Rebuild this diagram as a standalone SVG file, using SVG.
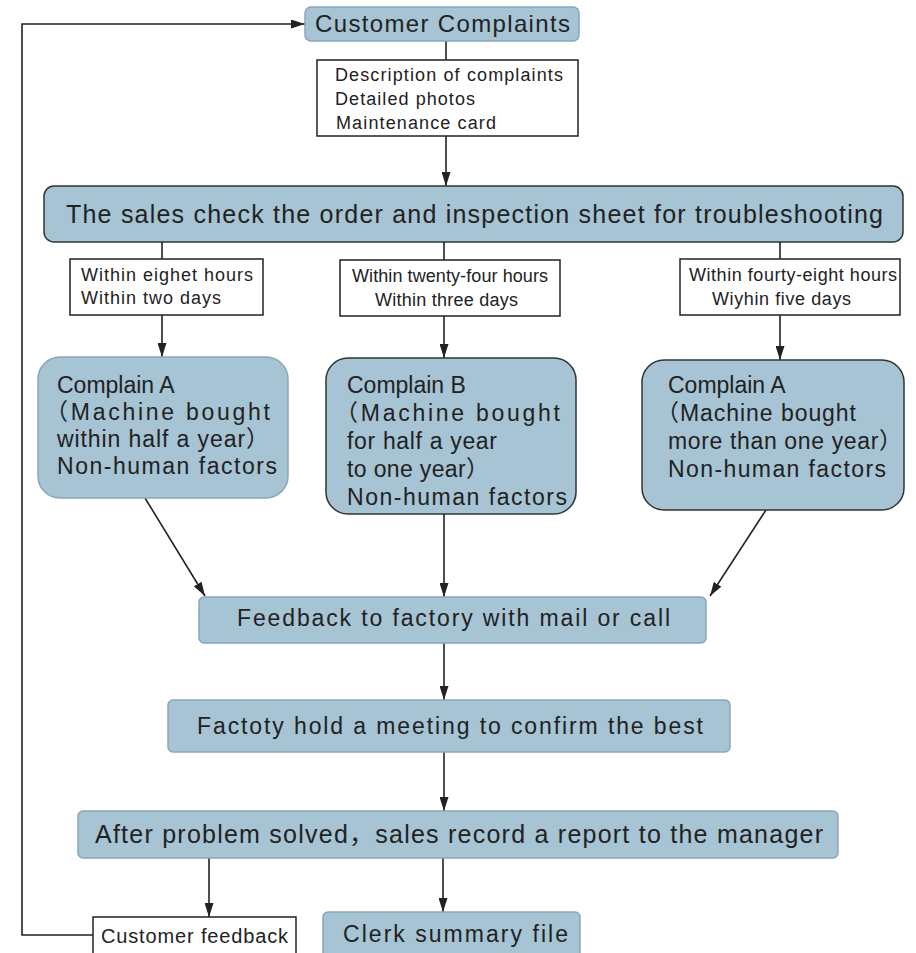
<svg xmlns="http://www.w3.org/2000/svg" width="916" height="953" viewBox="0 0 916 953">
<style>
.blue{fill:#a6c4d4;stroke:#8aa6b6;stroke-width:1.5}
.bluedark{fill:#a6c4d4;stroke:#333;stroke-width:1.5}
.white{fill:#fff;stroke:#222;stroke-width:1.5}
.t{font-family:"Liberation Sans",Arial,"Noto Sans CJK SC",sans-serif;fill:#222}
.big{font-size:25px}
.mid{font-size:23px}
.cp{font-size:23px}
.sm{font-size:18px}
.line{stroke:#222;stroke-width:1.6;fill:none}
</style>
<defs>
<marker id="ah" viewBox="0 0 14 9" refX="14" refY="4.5" markerWidth="14" markerHeight="9" markerUnits="userSpaceOnUse" orient="auto">
<path d="M0,0 L14,4.5 L0,9 Z" fill="#222"/>
</marker>
</defs>
<rect width="916" height="953" fill="#fff"/>
<g id="connectors">
<line class="line" x1="446" y1="41" x2="446" y2="60"/>
<line class="line" x1="446" y1="136" x2="446" y2="186" marker-end="url(#ah)"/>
<line class="line" x1="162" y1="242" x2="162" y2="259"/>
<line class="line" x1="444" y1="242" x2="444" y2="260"/>
<line class="line" x1="780" y1="242" x2="780" y2="259"/>
<line class="line" x1="162" y1="315" x2="162" y2="357" marker-end="url(#ah)"/>
<line class="line" x1="444" y1="316" x2="444" y2="358" marker-end="url(#ah)"/>
<line class="line" x1="780" y1="315" x2="780" y2="360" marker-end="url(#ah)"/>
<line class="line" x1="145" y1="498" x2="205" y2="596" marker-end="url(#ah)"/>
<line class="line" x1="444" y1="514" x2="444" y2="597" marker-end="url(#ah)"/>
<line class="line" x1="766" y1="510" x2="710" y2="596" marker-end="url(#ah)"/>
<line class="line" x1="444" y1="643" x2="444" y2="700" marker-end="url(#ah)"/>
<line class="line" x1="444" y1="752" x2="444" y2="811" marker-end="url(#ah)"/>
<line class="line" x1="209" y1="858" x2="209" y2="917" marker-end="url(#ah)"/>
<line class="line" x1="443" y1="858" x2="443" y2="912" marker-end="url(#ah)"/>
<polyline class="line" points="93,935 22,935 22,24 305,24" marker-end="url(#ah)"/>
</g>
<g id="customer-complaints">
<rect class="blue" x="305" y="7" width="274" height="34" rx="6"/>
<text class="t" style="font-size:24px" x="315" y="32" textLength="255" lengthAdjust="spacing">Customer Complaints</text>
</g>
<g id="description">
<rect class="white" x="317" y="60" width="261" height="76"/>
<text class="t sm" x="335" y="81" textLength="228" lengthAdjust="spacing">Description of complaints</text>
<text class="t sm" x="335" y="105" textLength="140" lengthAdjust="spacing">Detailed photos</text>
<text class="t sm" x="336" y="129" textLength="160" lengthAdjust="spacing">Maintenance card</text>
</g>
<g id="sales-check">
<rect class="bluedark" x="44" y="186" width="859" height="56" rx="10"/>
<text class="t big" x="66" y="223" textLength="817" lengthAdjust="spacing">The sales check the order and inspection sheet for troubleshooting</text>
</g>
<g id="time1">
<rect class="white" x="70" y="259" width="193" height="56"/>
<text class="t sm" x="81" y="281" textLength="172" lengthAdjust="spacing">Within eighet hours</text>
<text class="t sm" x="81" y="304" textLength="140" lengthAdjust="spacing">Within two days</text>
</g>
<g id="time2">
<rect class="white" x="340" y="260" width="220" height="56"/>
<text class="t sm" x="352" y="282" textLength="196" lengthAdjust="spacing">Within twenty-four hours</text>
<text class="t sm" x="375" y="306" textLength="143" lengthAdjust="spacing">Within three days</text>
</g>
<g id="time3">
<rect class="white" x="680" y="259" width="220" height="56"/>
<text class="t sm" x="689" y="281" textLength="208" lengthAdjust="spacing">Within fourty-eight hours</text>
<text class="t sm" x="712" y="305" textLength="139" lengthAdjust="spacing">Wiyhin five days</text>
</g>
<g id="complain-a1">
<rect class="blue" x="38" y="357" width="250" height="141" rx="22"/>
<text class="t cp" x="57" y="393">Complain A</text>
<text class="t cp" x="45" y="420" textLength="225" lengthAdjust="spacing">（Machine bought</text>
<text class="t cp" x="57" y="447" textLength="212" lengthAdjust="spacing">within half a year）</text>
<text class="t cp" x="57" y="474" textLength="220" lengthAdjust="spacing">Non-human factors</text>
</g>
<g id="complain-b">
<rect class="bluedark" x="326" y="358" width="250" height="156" rx="22"/>
<text class="t cp" x="347" y="393">Complain B</text>
<text class="t cp" x="335" y="421" textLength="225" lengthAdjust="spacing">（Machine bought</text>
<text class="t cp" x="347" y="449" textLength="150" lengthAdjust="spacing">for half a year</text>
<text class="t cp" x="347" y="477" textLength="142" lengthAdjust="spacing">to one year）</text>
<text class="t cp" x="347" y="505" textLength="220" lengthAdjust="spacing">Non-human factors</text>
</g>
<g id="complain-a2">
<rect class="bluedark" x="642" y="360" width="262" height="150" rx="22"/>
<text class="t cp" x="668" y="393">Complain A</text>
<text class="t cp" x="656" y="421" textLength="200" lengthAdjust="spacing">（Machine bought</text>
<text class="t cp" x="668" y="449" textLength="234" lengthAdjust="spacing">more than one year）</text>
<text class="t cp" x="668" y="477" textLength="218" lengthAdjust="spacing">Non-human factors</text>
</g>
<g id="feedback-factory">
<rect class="blue" x="199" y="597" width="507" height="46" rx="5"/>
<text class="t mid" x="237" y="626" textLength="433" lengthAdjust="spacing">Feedback to factory with mail or call</text>
</g>
<g id="factory-meeting">
<rect class="blue" x="168" y="700" width="562" height="52" rx="5"/>
<text class="t mid" x="197" y="734" textLength="506" lengthAdjust="spacing">Factoty hold a meeting to confirm the best</text>
</g>
<g id="after-solved">
<rect class="blue" x="78" y="811" width="760" height="47" rx="5"/>
<text class="t big" x="95" y="843" textLength="728" lengthAdjust="spacing">After problem solved，sales record a report to the manager</text>
</g>
<g id="customer-feedback">
<rect class="white" x="93" y="917" width="203" height="42"/>
<text class="t" style="font-size:20px" x="101" y="943" textLength="187" lengthAdjust="spacing">Customer feedback</text>
</g>
<g id="clerk-summary">
<rect class="blue" x="323" y="912" width="257" height="45" rx="5"/>
<text class="t mid" x="343" y="942" textLength="225" lengthAdjust="spacing">Clerk summary file</text>
</g>
</svg>
